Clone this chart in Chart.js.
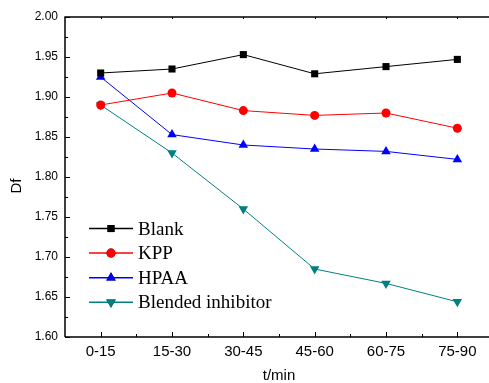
<!DOCTYPE html>
<html>
<head>
<meta charset="utf-8">
<script src="https://cdn.jsdelivr.net/npm/chart.js@4/dist/chart.umd.min.js"></script>
<style>
  html, body { margin: 0; padding: 0; background: #fff; overflow: hidden; }
  #wrap { width: 500px; height: 383px; }
</style>
</head>
<body>
<div id="wrap"><canvas id="chartLine"></canvas></div>
<script>
// categories (time windows)
const periods = ['0-15', '15-30', '30-45', '45-60', '60-75', '75-90'];

// series values (fractal dimension Df)
const blank   = [1.930, 1.935, 1.953, 1.929, 1.938, 1.947];
const kpp     = [1.890, 1.905, 1.883, 1.877, 1.880, 1.861];
const hpaa    = [1.925, 1.853, 1.840, 1.835, 1.832, 1.822];
const blended = [1.890, 1.830, 1.760, 1.685, 1.667, 1.644];

const seriesNames = ['Blank', 'KPP', 'HPAA', 'Blended inhibitor'];

// y axis
const yMin = 1.60;
const yMax = 2.00;
const yStep = 0.05;
const yTitle = 'Df';

const sansFont = '"Liberation Sans", Arial, sans-serif';
const serifFont = '"Liberation Serif", "Times New Roman", serif';

const mkSet = (label, values, color, style, radius, rotation) => ({
    label: label,
    data: values,
    borderColor: color,
    backgroundColor: color,
    borderWidth: 1,
    pointStyle: style,
    pointRadius: radius,
    pointHoverRadius: radius,
    pointRotation: rotation || 0,
    pointBorderWidth: 0,
    tension: 0,
    fill: false
});

const datasets = [
    mkSet(seriesNames[0], blank, '#000000', 'rect', 5),
    mkSet(seriesNames[1], kpp, '#ff0000', 'circle', 4.5),
    mkSet(seriesNames[2], hpaa, '#0000ff', 'triangle', 5.5),
    mkSet(seriesNames[3], blended, '#008080', 'triangle', 5.5, 180)
];

//draw frame, inward ticks, y title and the legend inside the plot
const framePlugin = {
    id: 'frame',
    afterDraw(chart) {
        const {ctx, chartArea: a, scales: {x, y}} = chart;
        ctx.save();
        ctx.strokeStyle = '#000';
        ctx.lineWidth = 1.5;
        ctx.beginPath();
        ctx.moveTo(a.left, a.bottom);
        ctx.lineTo(a.left, a.top);
        ctx.lineTo(a.right + 10, a.top);
        ctx.moveTo(a.left, a.bottom);
        ctx.lineTo(a.right + 10, a.bottom);
        ctx.stroke();

        ctx.lineWidth = 1;
        ctx.beginPath();
        // y ticks (major + minor)
        for (let v = yMin; v <= yMax + 1e-9; v += yStep / 2) {
            const py = Math.round(y.getPixelForValue(v)) + 0.5;
            const major = Math.abs(Math.round(v / yStep) * yStep - v) < 1e-6;
            ctx.moveTo(a.left, py);
            ctx.lineTo(a.left + (major ? 5 : 3), py);
        }
        // x ticks
        periods.forEach((p, i) => {
            const px = Math.round(x.getPixelForValue(i)) + 0.5;
            ctx.moveTo(px, a.bottom);
            ctx.lineTo(px, a.bottom - 5);
            ctx.moveTo(px, a.top);
            ctx.lineTo(px, a.top + 2);
            if (i < periods.length - 1) {
                const mx = Math.round((x.getPixelForValue(i) + x.getPixelForValue(i + 1)) / 2) + 0.5;
                ctx.moveTo(mx, a.bottom);
                ctx.lineTo(mx, a.bottom - 3);
            }
        });
        ctx.stroke();

        // y title, sits a bit below the middle like the original
        ctx.save();
        ctx.translate(17, (a.top + a.bottom) / 2 + 9);
        ctx.rotate(-Math.PI / 2);
        ctx.fillStyle = '#000';
        ctx.font = '15px ' + sansFont;
        ctx.textAlign = 'center';
        ctx.textBaseline = 'middle';
        ctx.fillText(yTitle, 0, 0);
        ctx.restore();

        // legend
        const lx = a.left + 24;
        const ly = y.getPixelForValue(1.7356);
        const rowH = 24.6;
        chart.data.datasets.forEach((ds, i) => {
            const cy = ly + i * rowH;
            ctx.strokeStyle = ds.borderColor;
            ctx.lineWidth = 1.5;
            ctx.beginPath();
            ctx.moveTo(lx, cy);
            ctx.lineTo(lx + 44, cy);
            ctx.stroke();
            Chart.helpers.drawPoint(ctx, {
                pointStyle: ds.pointStyle,
                rotation: ds.pointRotation,
                radius: ds.pointRadius,
                borderWidth: 0
            }, lx + 22, cy);
            ctx.fillStyle = ds.backgroundColor;
            ctx.fill();
            ctx.fillStyle = '#000';
            ctx.font = '19px ' + serifFont;
            ctx.textBaseline = 'middle';
            ctx.textAlign = 'left';
            ctx.fillText(ds.label, lx + 49, cy + 1);
        });
        ctx.restore();
    }
};

const config = {
    type: 'line',
    data: { labels: periods, datasets: datasets },
    plugins: [framePlugin],
    options: {
        responsive: true,
        maintainAspectRatio: false,
        animation: false,
        layout: { padding: { left: 0, top: 17, right: 7, bottom: 0 } },
        plugins: {
            legend: { display: false },
            tooltip: { enabled: false }
        },
        scales: {
            x: {
                offset: true,
                afterFit: (s) => { s.height = 46; },
                grid: { display: false, drawTicks: false },
                border: { display: false },
                ticks: {
                    color: '#000',
                    padding: 6,
                    font: { family: sansFont, size: 15 }
                },
                title: {
                    display: true,
                    text: 't/min',
                    color: '#000',
                    padding: 0,
                    font: { family: sansFont, size: 15, lineHeight: 0.9 }
                }
            },
            y: {
                min: yMin,
                max: yMax,
                afterFit: (s) => { s.width = 65; },
                grid: { display: false, drawTicks: false },
                border: { display: false },
                ticks: {
                    stepSize: yStep,
                    color: '#000',
                    padding: 7,
                    font: { family: sansFont, size: 12 },
                    callback: (v) => Number(v).toFixed(2)
                },
                title: { display: false }
            }
        }
    }
};

new Chart(document.getElementById('chartLine'), config);
</script>
</body>
</html>
